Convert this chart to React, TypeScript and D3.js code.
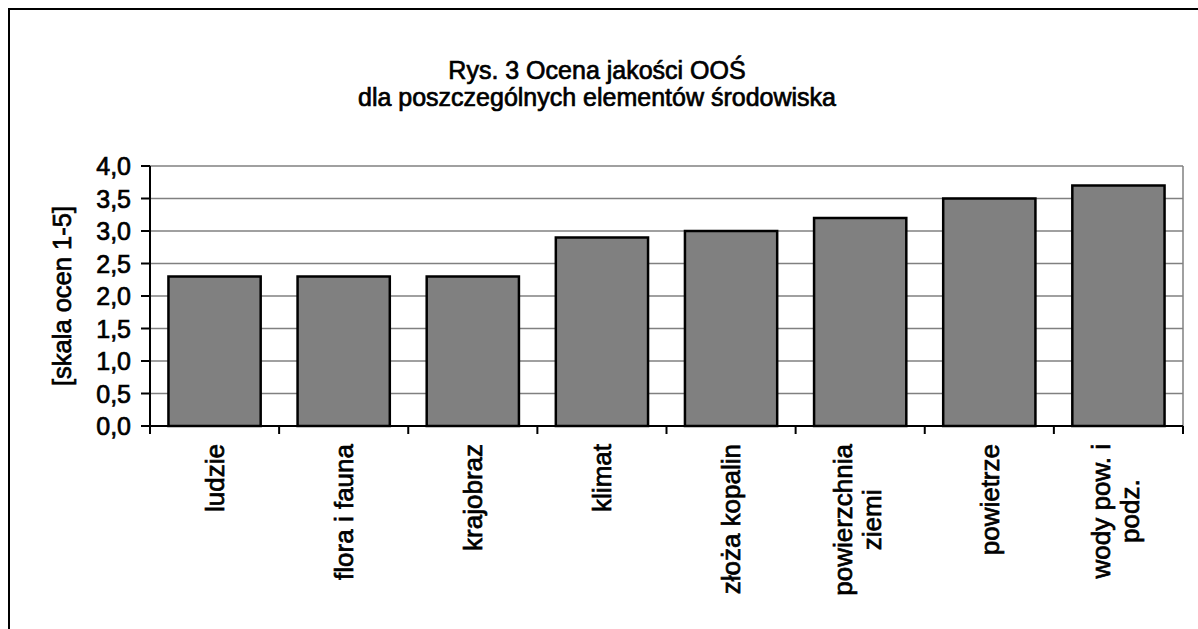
import React from "react";
import * as d3 from "d3";

const categories = ["ludzie", "flora i fauna", "krajobraz", "klimat", "złoża kopalin", "powierzchnia ziemi", "powietrze", "wody pow. i podz."];
const categoryLines = [["ludzie"], ["flora i fauna"], ["krajobraz"], ["klimat"], ["złoża kopalin"], ["powierzchnia", "ziemi"], ["powietrze"], ["wody pow. i", "podz."]];
const values = [2.3, 2.3, 2.3, 2.9, 3.0, 3.2, 3.5, 3.7];
const yTicks = [0, 0.5, 1.0, 1.5, 2.0, 2.5, 3.0, 3.5, 4.0];
const titleLines = ["Rys. 3 Ocena jakości OOŚ", "dla poszczególnych elementów środowiska"];
const yTitle = "[skala ocen 1-5]";

const FONT = "'Liberation Sans', Arial, sans-serif";

function measure(text: string, size: number): number {
  const c = document.createElement("canvas");
  const ctx = c.getContext("2d");
  if (!ctx) return text.length * size * 0.5;
  ctx.font = `${size}px 'Liberation Sans'`;
  return ctx.measureText(text).width;
}

export default function App() {
  const W = 1198, H = 629;
  const left = 150, right = 1183, top = 166, bottom = 426;
  const x = d3.scaleBand<string>().domain(categories).range([left, right]).paddingInner(0.2857).paddingOuter(0.14285);
  const y = d3.scaleLinear().domain([0, 4]).range([bottom, top]);
  const step = x.step();
  const fmt = (v: number) => d3.format(".1f")(v).replace(".", ",");
  const xlFont = 26;
  const labelTop = 444;
  const lh = 29;
  const thick = { stroke: "#000", strokeWidth: 0.7 };

  return (
    <svg width={W} height={H} style={{ position: "absolute", left: 0, top: 0, background: "#fff" }} fontFamily={FONT}>
      <rect x={0} y={0} width={W} height={H} fill="#fff" />
      <rect x={9} y={9} width={W + 20} height={H + 20} fill="none" stroke="#000" strokeWidth={2} />
      {titleLines.map((t, i) => (
        <text key={i} x={597} y={79 + i * 27} textAnchor="middle" fontSize={25} fill="#000" {...thick}>{t}</text>
      ))}
      {yTicks.map((t) => (
        <line key={t} x1={left} x2={right} y1={y(t)} y2={y(t)} stroke="#808080" strokeWidth={1.5} />
      ))}
      <line x1={right} x2={right} y1={top} y2={bottom} stroke="#808080" strokeWidth={1.5} />
      {categories.map((c, i) => (
        <rect key={c} x={x(c)} y={y(values[i])} width={x.bandwidth()} height={y(0) - y(values[i])} fill="#808080" stroke="#000" strokeWidth={2.5} />
      ))}
      <line x1={left} x2={left} y1={top} y2={bottom + 8} stroke="#000" strokeWidth={2} />
      {yTicks.map((t) => (
        <g key={t}>
          <line x1={left - 9} x2={left} y1={y(t)} y2={y(t)} stroke="#000" strokeWidth={2} />
          <text x={131} y={y(t)} dy="0.36em" textAnchor="end" fontSize={25} fill="#000" {...thick}>{fmt(t)}</text>
        </g>
      ))}
      <text transform={`translate(62,${(top + bottom) / 2}) rotate(-90)`} dy="0.36em" textAnchor="middle" fontSize={25.5} fill="#000" {...thick}>{yTitle}</text>
      <line x1={left} x2={right} y1={bottom} y2={bottom} stroke="#000" strokeWidth={2} />
      {d3.range(categories.length + 1).map((i) => (
        <line key={i} x1={left + i * step} x2={left + i * step} y1={bottom} y2={bottom + 8} stroke="#000" strokeWidth={2} />
      ))}
      {categories.map((c, i) => {
        const lines = categoryLines[i];
        const cx = (x(c) ?? 0) + x.bandwidth() / 2;
        const w0 = measure(lines[0], xlFont);
        return lines.map((ln, j) => {
          const lx = cx + (j - (lines.length - 1) / 2) * lh - (lines.length > 1 ? 3 : 0);
          if (j === 0) {
            return (
              <text key={c + j} transform={`translate(${lx},${labelTop}) rotate(-90)`} dy="0.36em" textAnchor="end" fontSize={xlFont} fill="#000" {...thick}>{ln}</text>
            );
          }
          return (
            <text key={c + j} transform={`translate(${lx},${labelTop + w0 / 2}) rotate(-90)`} dy="0.36em" textAnchor="middle" fontSize={xlFont} fill="#000" {...thick}>{ln}</text>
          );
        });
      })}
    </svg>
  );
}
